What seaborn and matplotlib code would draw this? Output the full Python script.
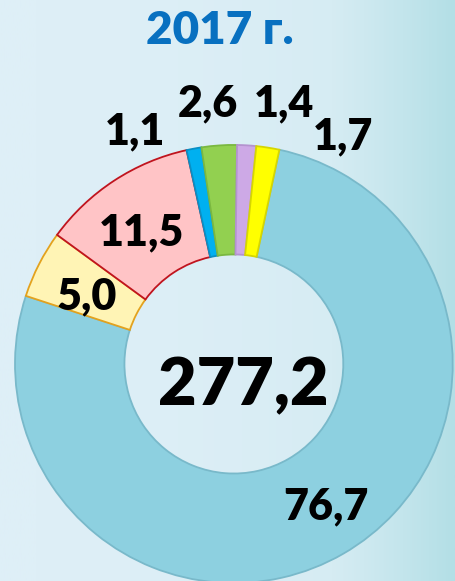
import numpy as np
import matplotlib
matplotlib.use("Agg")
import matplotlib.pyplot as plt
import seaborn as sns
from matplotlib.colors import LinearSegmentedColormap

# shares, clockwise from the top
values = [76.7, 5.0, 11.5, 1.1, 2.6, 1.4, 1.7]
labels = ["76,7", "5,0", "11,5", "1,1", "2,6", "1,4", "1,7"]
total_label = "277,2"
title = "2017 г."

colors = ["#8DD0E0", "#FFF4B5", "#FFC4C6", "#00B0F0", "#92D050", "#CDA9E6", "#FFFF00"]
edges = ["#79B9CA", "#E3A21E", "#C0141E", "#0A8FC4", "#7AB840", "#B493CF", "#D6D600"]

# label spots in pie units (radius 1)
label_pos = [(0.42, -0.65), (-0.67, 0.31), (-0.42, 0.6), (-0.45, 1.06),
             (-0.12, 1.19), (0.23, 1.19), (0.5, 1.04)]

sns.set_theme(style="white")
plt.rcParams["font.family"] = ["Lato", "DejaVu Sans"]

fig = plt.figure(figsize=(4.55, 5.81), dpi=100)

# light gradient background
bg = fig.add_axes([0, 0, 1, 1])
cmap = LinearSegmentedColormap.from_list("bg", ["#DEEFF7", "#D6ECF3", "#B3DFE6"])
grad = np.linspace(0, 1, 256)[None, :] ** 2.2
bg.imshow(grad, aspect="auto", cmap=cmap, extent=[0, 1, 0, 1])
bg.axis("off")

ax = fig.add_axes([0.033, -0.0035, 0.962, 0.754])
wedges, _ = ax.pie(values, colors=colors, startangle=78, counterclock=False,
                   radius=1.0, wedgeprops=dict(width=0.5, linewidth=1.3))
for w, ec in zip(wedges, edges):
    w.set_edgecolor(ec)
ax.set_xlim(-1, 1)
ax.set_ylim(-1, 1)
ax.set_aspect("auto")
ax.axis("off")

for txt, (x, y) in zip(labels, label_pos):
    ax.text(x, y, txt, ha="center", va="center", fontsize=31,
            fontweight="heavy", color="black", clip_on=False)

ax.text(0.045, -0.1, total_label, ha="center", va="center", fontsize=48,
        fontweight="heavy", color="black")

fig.text(0.484, 0.948, title, ha="center", va="center", fontsize=33,
         fontweight="heavy", color="#0870C0")

fig.savefig("out.png", dpi=100)
